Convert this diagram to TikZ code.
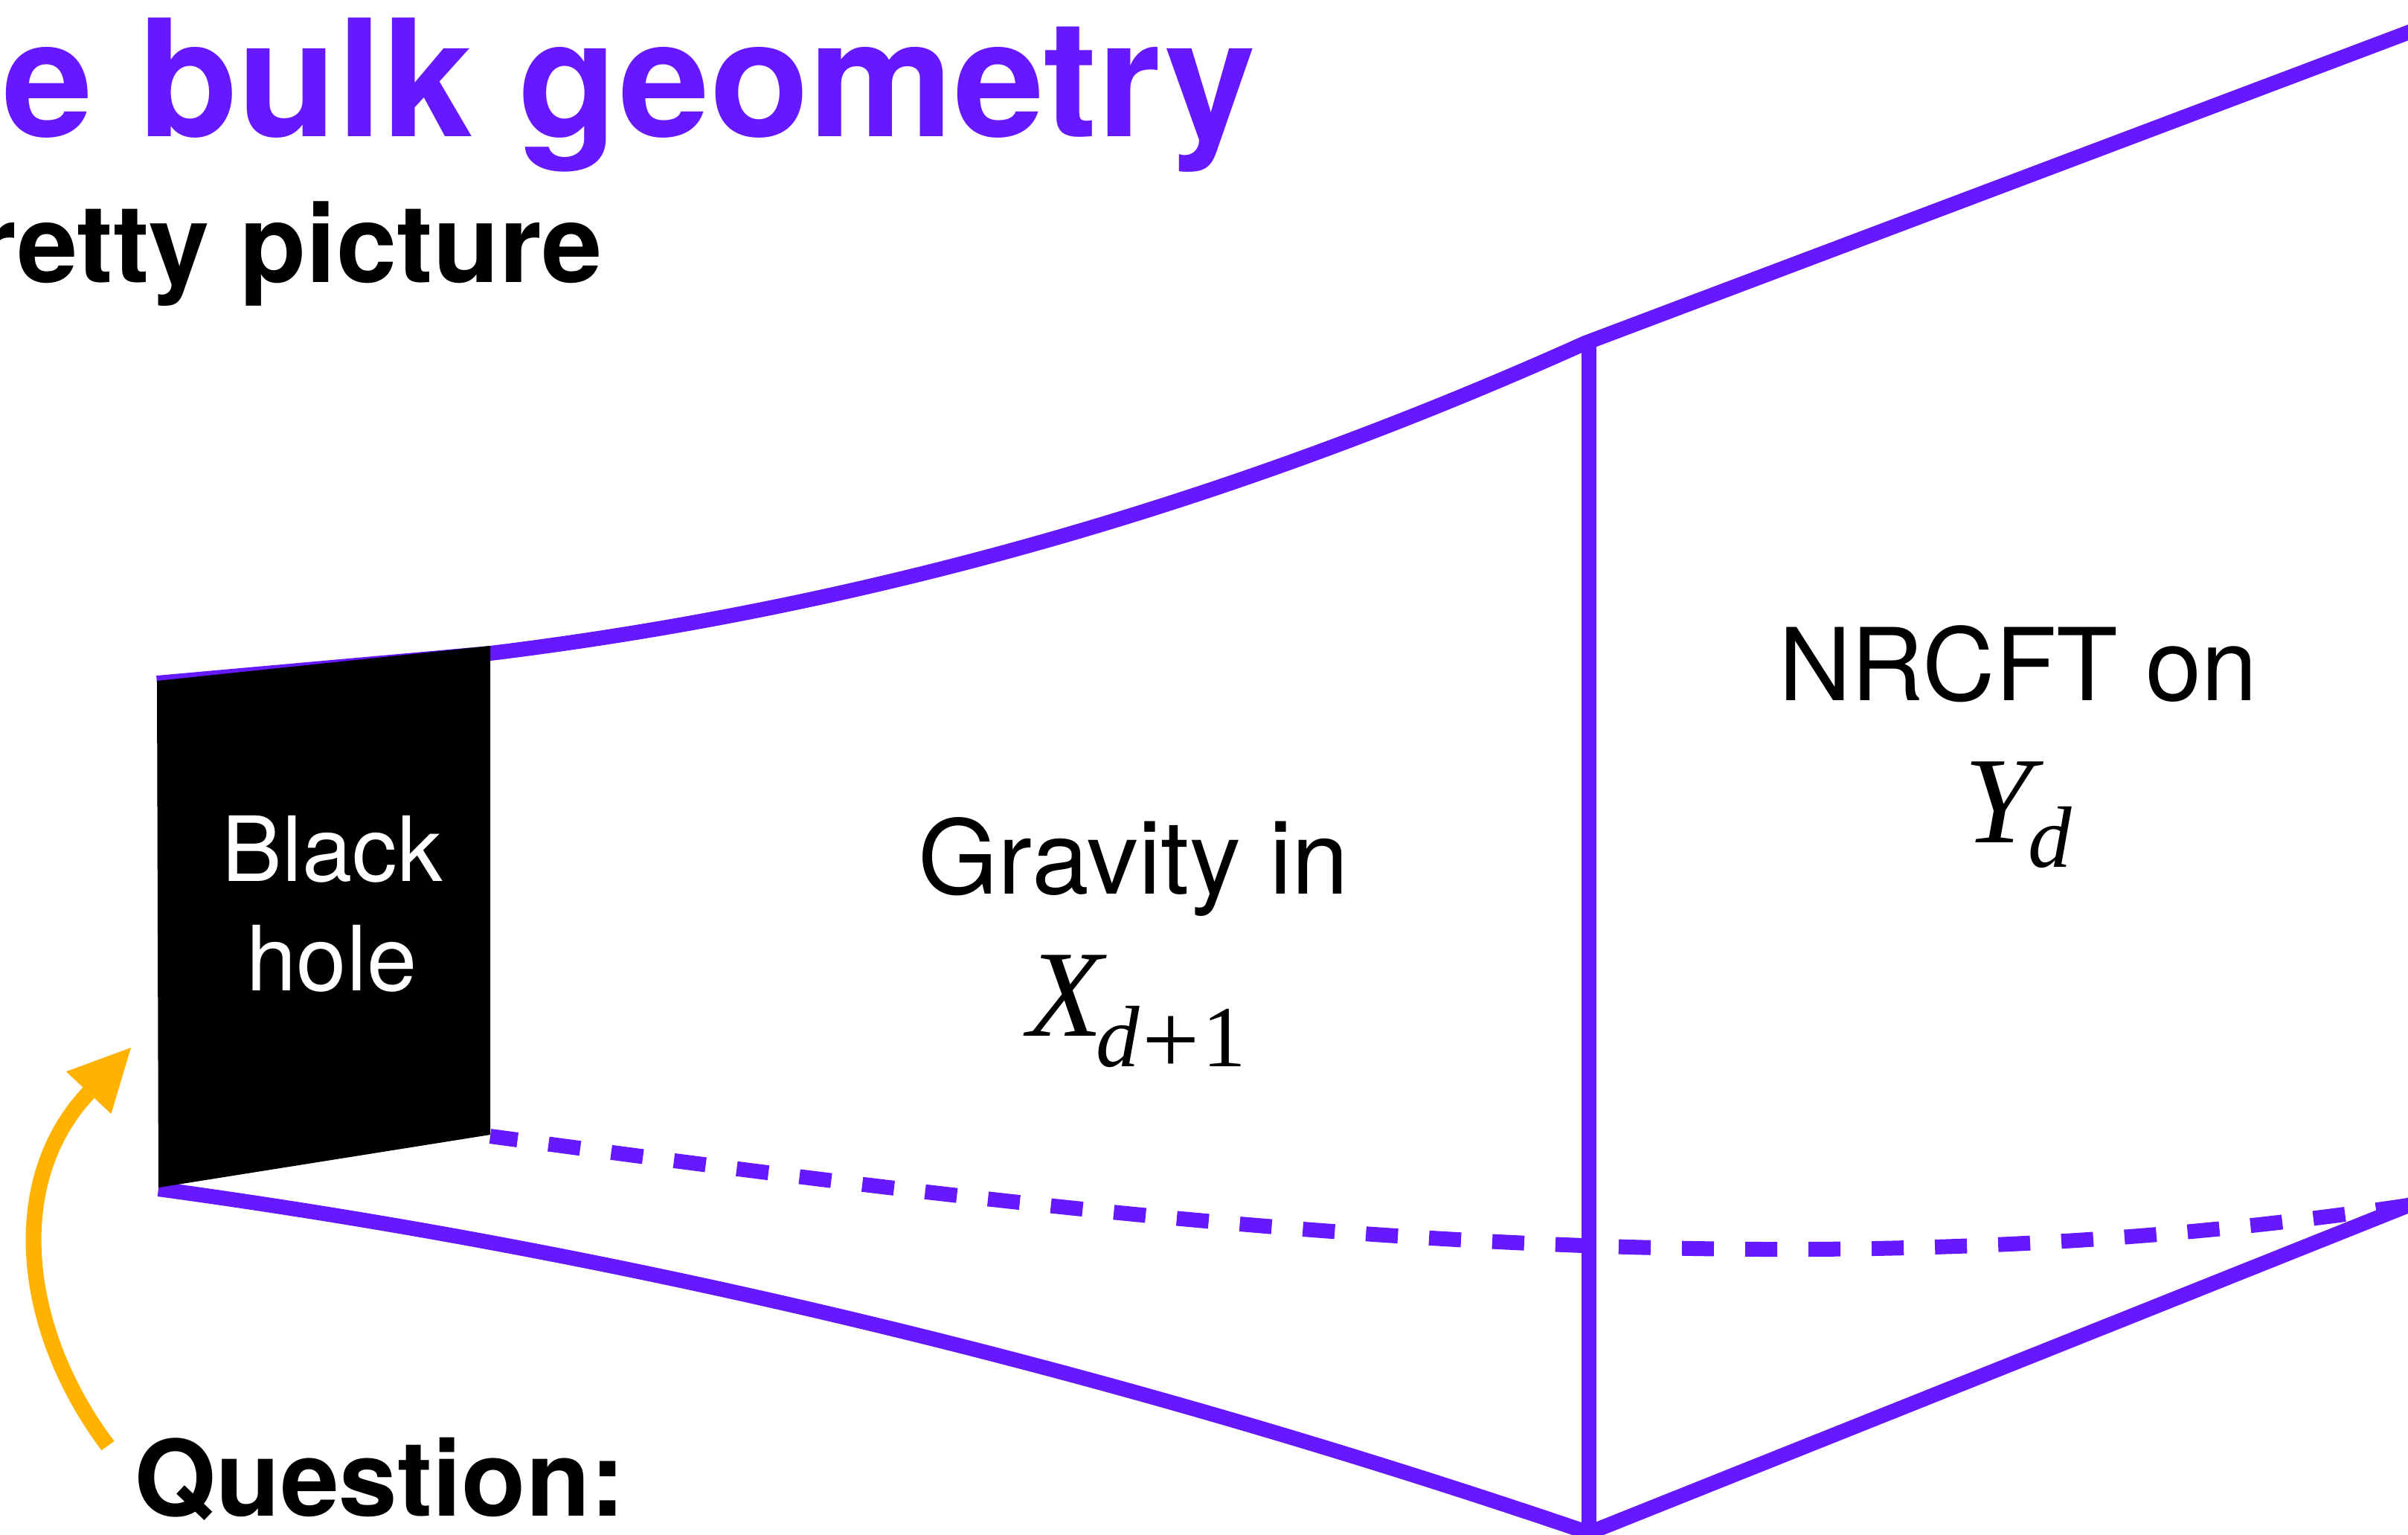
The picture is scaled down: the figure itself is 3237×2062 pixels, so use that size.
\documentclass[tikz,border=0pt]{standalone}
\usepackage{fontspec}
\setmainfont{TeX Gyre Heros}
\newfontfamily\tmsfont{Liberation Serif}
\usetikzlibrary{arrows.meta}
\definecolor{bulkpurple}{RGB}{102,25,255}
\definecolor{qorange}{RGB}{255,179,0}
\begin{document}
\begin{tikzpicture}[x=0.01cm,y=-0.01cm,
  edge/.style={draw=bulkpurple, line width=0.2cm},
  dashedge/.style={edge, dash pattern=on 0.43cm off 0.42cm, dash phase=0.06cm},
  lbl/.style={inner sep=0pt, anchor=base},
  hugefont/.style={font=\bfseries\fontsize{62.2pt}{70pt}\selectfont},
  subfont/.style={font=\bfseries\fontsize{41.5pt}{48pt}\selectfont},
  qfont/.style={font=\bfseries\fontsize{40.2pt}{46pt}\selectfont},
  bhfont/.style={font=\fontsize{34.4pt}{40pt}\selectfont},
  bodyfont/.style={font=\fontsize{39.2pt}{46pt}\selectfont},
  nrfont/.style={font=\fontsize{38.4pt}{46pt}\selectfont}]
\useasboundingbox (0,0) rectangle (3237,2062);
\fill[white] (0,0) rectangle (3237,2062);

% key points
\coordinate (bhTL) at (211,915);
\coordinate (bhTR) at (659,868);
\coordinate (bhBR) at (659,1525);
\coordinate (bhBL) at (213,1596);
\coordinate (upStart) at (211,918);
\coordinate (upBH) at (659,878);
\coordinate (topJ) at (2131,461);
\coordinate (topEnd) at (3300,20);
\coordinate (loStart) at (213,1598);
\coordinate (apex) at (2136,2060);
\coordinate (loEnd) at (3300,1595);
\coordinate (dStart) at (659,1527);
\coordinate (dEnd) at (3237,1620);
\coordinate (vTop) at (2136,461);
\coordinate (vBot) at (2136,2090);

% upper boundary
\draw[edge] (upStart) -- (upBH) .. controls (1149,818) and (1637,683) .. (topJ) -- (topEnd);
% lower boundary
\draw[edge] (loStart) .. controls (853,1685) and (1496,1842) .. (apex) -- (loEnd);
% dashed boundary
\draw[dashedge] (dStart) .. controls (1519,1643) and (2377,1749) .. (dEnd);
% vertical slice
\draw[edge] (vTop) -- (vBot);

% black hole
\fill[black] (bhTL) -- (bhTR) -- (bhBR) -- (bhBL) -- cycle;
\node[lbl, text=white, bhfont] (bh1) at (447,1184) {Black};
\node[lbl, text=white, bhfont] (bh2) at (446,1331) {hole};

% titles
\node[lbl, anchor=base west, text=bulkpurple, hugefont] (title) at (3,183) {e bulk geometry};
\node[lbl, anchor=base west, subfont] (subtitle) at (-35,379) {retty picture};
\node[lbl, anchor=base west, qfont] (question) at (180,2037) {Question:};

% region labels
\node[lbl, bodyfont] (grav) at (1524,1201) {Gravity in};
\node[lbl, anchor=base west] (xd) at (1381,1392) {\tmsfont{\fontsize{47.2pt}{50pt}\selectfont\itshape X}\kern-2.7pt\raisebox{-11.7pt}{\fontsize{33.3pt}{36pt}\selectfont\itshape d\upshape\kern1pt\raisebox{-3pt}{\fontsize{39pt}{40pt}\selectfont +}\kern1pt 1}};
\node[lbl, nrfont] (nrcft) at (2713,941) {NRCFT on};
\node[lbl, anchor=base west] (yd) at (2640,1132) {\tmsfont{\fontsize{47.2pt}{50pt}\selectfont\itshape Y}\kern-2pt\raisebox{-9.4pt}{\fontsize{33.3pt}{36pt}\selectfont\itshape d}};

% orange arrow
\coordinate (arTail) at (145,1943);
\coordinate (arTip) at (176,1408);
\draw[qorange, line width=0.21cm, -{Triangle[length=0.83cm, width=0.83cm, line width=0pt]}]
  (arTail) .. controls (30,1790) and (5,1590) .. (arTip);
\end{tikzpicture}
\end{document}
